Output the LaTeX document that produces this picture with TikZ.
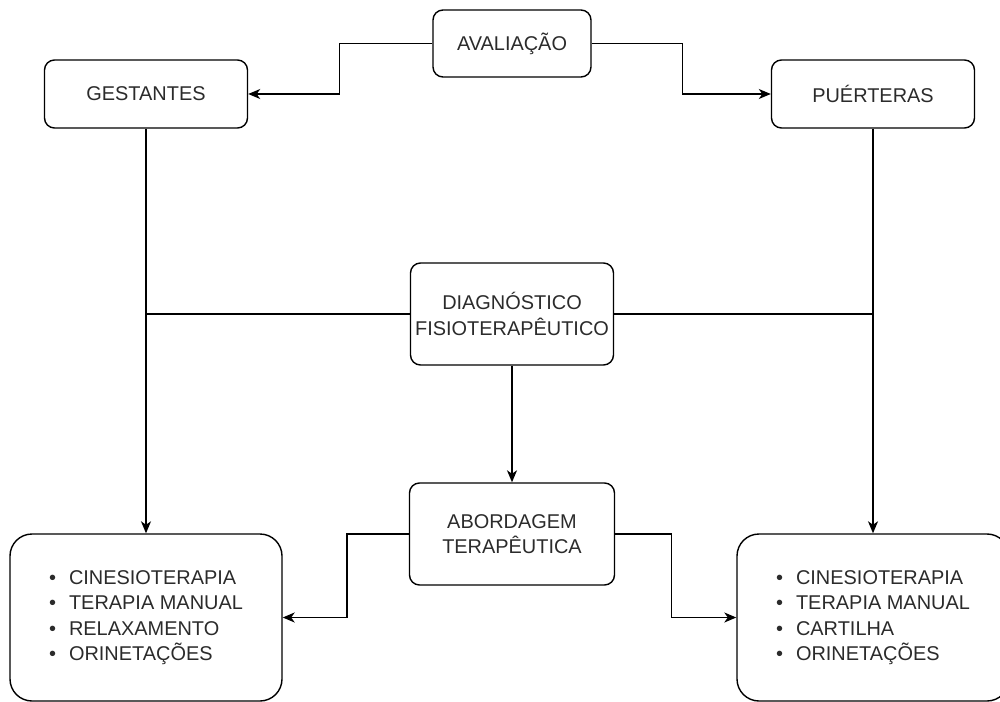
\documentclass[tikz,border=0pt]{standalone}
\usepackage{fontspec}
\setmainfont{Liberation Sans}
\usepackage{xcolor}
\definecolor{ink}{HTML}{2B2B2B}
\usetikzlibrary{arrows.meta}

\begin{document}
\begin{tikzpicture}[x=1bp,y=-1bp,>={Stealth[length=12bp,width=10bp,inset=3.5bp]},
  every node/.style={font=\fontsize{20}{25.5}\selectfont,text=ink},
  box/.style={draw,rounded corners=10bp,line width=1.4bp,align=center,inner sep=0pt},
  listbox/.style={draw,rounded corners=22bp,line width=1.4bp,inner sep=0pt,
    minimum width=272bp,minimum height=167bp},
  link/.style={line width=1.4bp}]
\useasboundingbox (0,0) rectangle (1000,702);
\node[box,minimum width=158bp,minimum height=67bp] (aval) at (512,43.5) {AVALIAÇÃO};
\node[box,minimum width=203bp,minimum height=68bp] (gest) at (146,94) {GESTANTES};
\node[box,minimum width=203bp,minimum height=68bp] (puer) at (873,94) {PUÉRTERAS};
\node[box,minimum width=203bp,minimum height=102bp] (diag) at (512,314) {DIAGNÓSTICO\\FISIOTERAPÊUTICO};
\node[box,minimum width=205bp,minimum height=102bp] (abord) at (512,534) {ABORDAGEM\\TERAPÊUTICA};
\node[listbox] (gtrat) at (146,617.5) {\begin{tabular}{@{}l@{\hspace{13bp}}l@{}}
  \textbullet & CINESIOTERAPIA\\ \textbullet & TERAPIA MANUAL\\
  \textbullet & RELAXAMENTO\\ \textbullet & ORINETAÇÕES\end{tabular}};
\node[listbox] (ptrat) at (873,617.5) {\begin{tabular}{@{}l@{\hspace{13bp}}l@{}}
  \textbullet & CINESIOTERAPIA\\ \textbullet & TERAPIA MANUAL\\
  \textbullet & CARTILHA\\ \textbullet & ORINETAÇÕES\end{tabular}};
% avaliacao para os dois grupos
\draw[link,->] (aval.west) -- ++(-93,0) |- (gest.east);
\draw[link,->] (aval.east) -- ++(91,0) |- (puer.west);
\draw[link,->] (gest.south) -- (gtrat.north);
\draw[link,->] (puer.south) -- (ptrat.north);
% diagnostico
\draw[link] (diag.west) -- (gest.south |- diag.west);
\draw[link] (diag.east) -- (puer.south |- diag.east);
\draw[link,->] (diag.south) -- (abord.north);
% abordagem
\draw[link,->] (abord.west) -- ++(-62,0) |- (gtrat.east);
\draw[link,->] (abord.east) -- ++(56,0) |- (ptrat.west);
\end{tikzpicture}
\end{document}
